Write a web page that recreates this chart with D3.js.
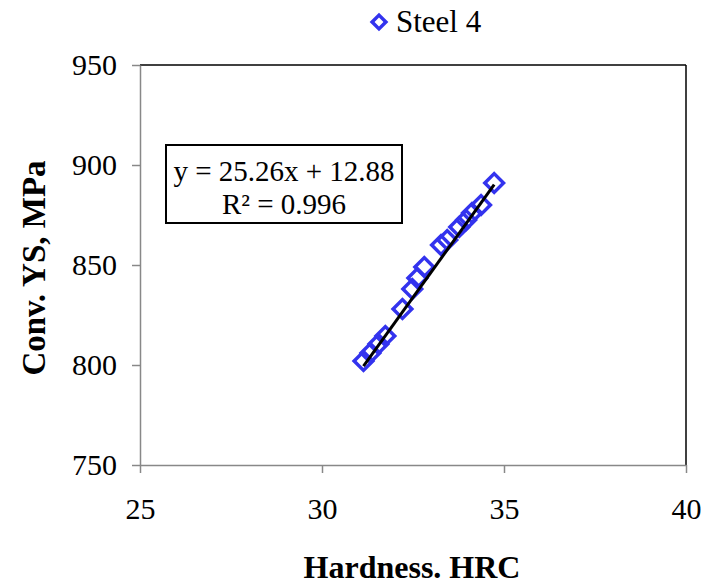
<!DOCTYPE html>
<html>
<head>
<meta charset="utf-8">
<script src="https://cdn.jsdelivr.net/npm/d3@7/dist/d3.min.js"></script>
<style>
  body { margin: 0; background: #fff; }
</style>
</head>
<body>
<svg id="chart" width="703" height="586" font-family="Liberation Serif, Times New Roman, serif"></svg>
<script>
// Hardness (HRC) vs conventional yield strength (MPa), Steel 4
const hardness = [31.14, 31.33, 31.55, 31.74, 32.21, 32.48, 32.62, 32.81, 33.27, 33.44, 33.77, 33.96, 34.12, 34.37, 34.73];
const yieldStrength = [802, 806, 810.5, 814.5, 828, 838, 843.5, 849, 860, 862.5, 869, 872.5, 876, 880, 891];
const seriesName = "Steel 4";
const fitSlope = 25.26;
const fitIntercept = 12.88;
const fitR2 = 0.996;
const xTicks = [25, 30, 35, 40];
const yTicks = [750, 800, 850, 900, 950];

const FONT = "Liberation Serif, Times New Roman, serif";
const svg = d3.select("#chart");
const m = { left: 140, right: 686, top: 65, bottom: 465 };

const x = d3.scaleLinear().domain([25, 40]).range([m.left, m.right]);
const y = d3.scaleLinear().domain([750, 950]).range([m.bottom, m.top]);

// plot frame: top/right dark, axes grey
svg.append("line").attr("x1", m.left).attr("x2", m.right).attr("y1", m.top).attr("y2", m.top)
  .attr("stroke", "#000").attr("stroke-width", 1.5);
svg.append("line").attr("x1", m.right).attr("x2", m.right).attr("y1", m.top).attr("y2", m.bottom)
  .attr("stroke", "#000").attr("stroke-width", 1.5);

const xAxis = svg.append("g").attr("transform", `translate(0,${m.bottom})`)
  .call(d3.axisBottom(x).tickValues(xTicks).tickSize(8).tickSizeOuter(0).tickPadding(25));
const yAxis = svg.append("g").attr("transform", `translate(${m.left},0)`)
  .call(d3.axisLeft(y).tickValues(yTicks).tickSize(8).tickSizeOuter(0).tickPadding(15));

[xAxis, yAxis].forEach(g => {
  g.attr("font-family", FONT).attr("font-size", 30);
  g.select(".domain").attr("stroke", "#888").attr("stroke-width", 1.5);
  g.selectAll(".tick line").attr("stroke", "#888").attr("stroke-width", 1.5);
  g.selectAll(".tick text").attr("fill", "#000");
});

// diamond markers
const diamond = d3.symbol().type(d3.symbolSquare).size(175);
svg.append("g").selectAll("path")
  .data(hardness.map((h, i) => [h, yieldStrength[i]]))
  .join("path")
  .attr("d", diamond)
  .attr("transform", d => `translate(${x(d[0])},${y(d[1])}) rotate(45)`)
  .attr("fill", "none").attr("stroke", "#3333ee").attr("stroke-width", 3.5);

// regression line over the data range
const xmin = d3.min(hardness), xmax = d3.max(hardness);
svg.append("line")
  .attr("x1", x(xmin)).attr("y1", y(fitSlope * xmin + fitIntercept))
  .attr("x2", x(xmax)).attr("y2", y(fitSlope * xmax + fitIntercept))
  .attr("stroke", "#000").attr("stroke-width", 3);

// equation box
const box = svg.append("g").attr("font-family", FONT).attr("font-size", 29);
box.append("rect").attr("x", 166).attr("y", 145).attr("width", 236).attr("height", 78)
  .attr("fill", "#fff").attr("stroke", "#000").attr("stroke-width", 2);
box.append("text").attr("x", 284).attr("y", 181).attr("text-anchor", "middle")
  .text(`y = ${fitSlope}x + ${fitIntercept}`);
box.append("text").attr("x", 284).attr("y", 214).attr("text-anchor", "middle")
  .text(`R² = ${fitR2}`);

// legend
svg.append("path").attr("d", d3.symbol().type(d3.symbolSquare).size(95))
  .attr("transform", "translate(379,22) rotate(45)")
  .attr("fill", "none").attr("stroke", "#3333ee").attr("stroke-width", 3.5);
svg.append("text").attr("x", 396).attr("y", 32).attr("font-family", FONT).attr("font-size", 31)
  .text(seriesName);

// axis titles
svg.append("text").attr("x", 412).attr("y", 578).attr("text-anchor", "middle")
  .attr("font-family", FONT).attr("font-size", 32).attr("font-weight", "bold").text("Hardness. HRC");
svg.append("text").attr("transform", `translate(45,268) rotate(-90)`)
  .attr("text-anchor", "middle")
  .attr("font-family", FONT).attr("font-size", 33).attr("font-weight", "bold").text("Conv. YS, MPa");
</script>
</body>
</html>
